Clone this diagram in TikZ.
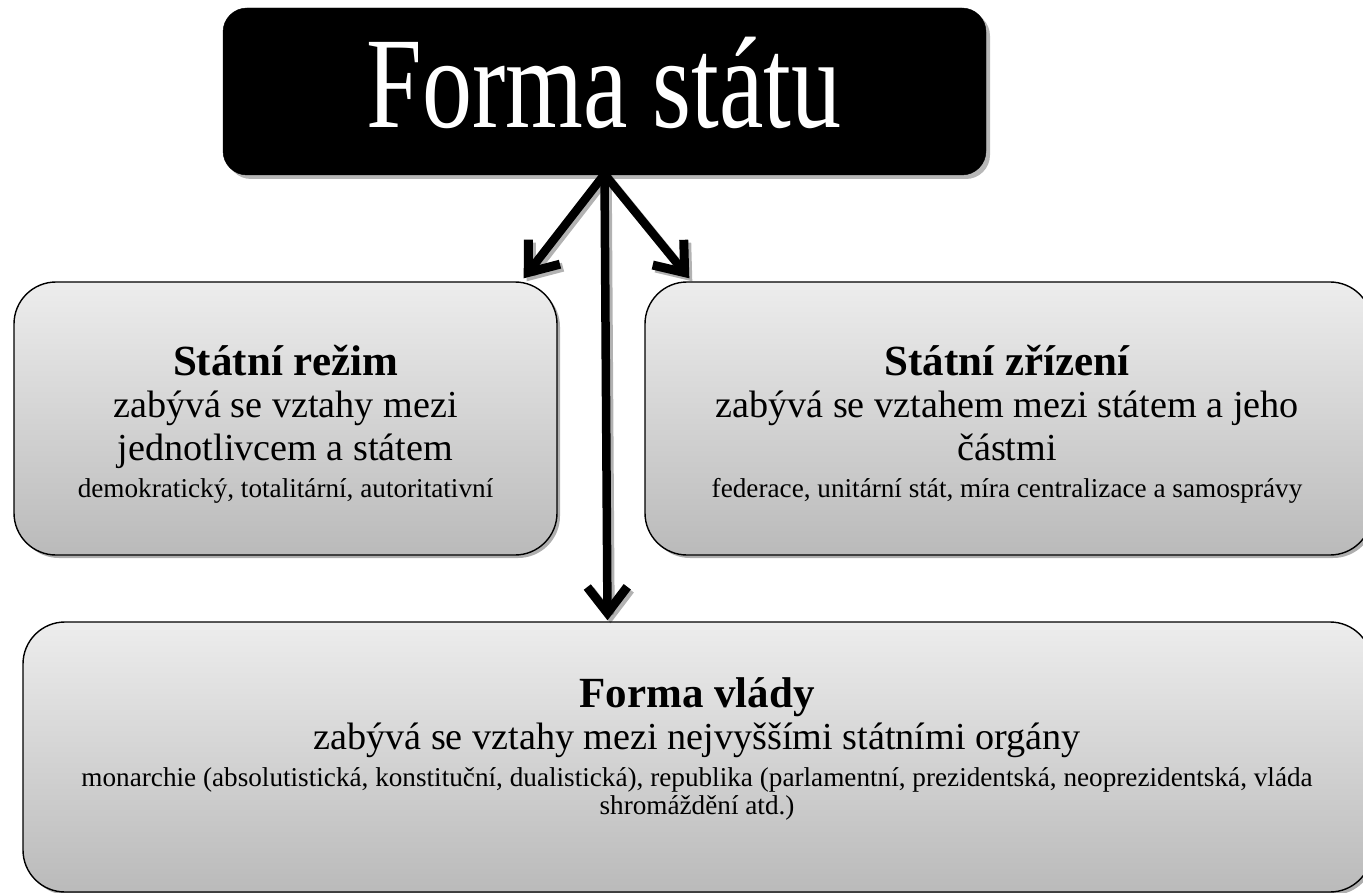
\documentclass[tikz,border=0pt]{standalone}
\usepackage{fontspec}
\setmainfont{Liberation Serif}
\usetikzlibrary{arrows.meta,shadows,calc}
\definecolor{boxtop}{RGB}{237,237,237}
\definecolor{boxbot}{RGB}{186,186,186}
\newcommand{\tallbox}[2]{\scalebox{1}[#1]{#2}}
\begin{document}
\begin{tikzpicture}[x=1pt,y=-1pt,
  panel/.style={draw=black, line width=1.4pt, rounded corners=42pt,
    top color=boxtop, bottom color=boxbot, inner sep=0pt,
    drop shadow={shadow xshift=3pt, shadow yshift=-3pt, opacity=0.45, fill=black!70}},
  headbox/.style={fill=black, draw=black, rounded corners=24pt, inner sep=0pt,
    drop shadow={shadow xshift=4pt, shadow yshift=-4pt, opacity=0.4, fill=black!70}},
  ttl/.style={anchor=base, inner sep=0pt, font=\fontsize{43}{50}\selectfont\bfseries},
  body/.style={anchor=base, inner sep=0pt, font=\fontsize{38.2}{44}\selectfont},
  small/.style={anchor=base, inner sep=0pt, font=\fontsize{27.2}{31}\selectfont},
  conn/.style={line width=8.5pt, line cap=round,
    -{Straight Barb[length=26pt, width=40pt, line width=9pt]}},
  connshadow/.style={conn, draw=black, opacity=0.3, transform canvas={shift={(3pt,-3pt)}}}
]
\useasboundingbox (0,0) rectangle (1363,893);
\clip (0,0) rectangle (1363,893);

% boxes
\node[headbox, minimum width=763pt, minimum height=167pt] (top) at (604.5,91.5) {};
\node[panel, minimum width=543pt, minimum height=273pt] (lbox) at (285.5,418.5) {};
\node[panel, minimum width=727pt, minimum height=273pt] (rbox) at (1008.5,418.5) {};
\node[panel, minimum width=1349pt, minimum height=270pt] (bbox) at (697.5,757) {};

% title
\node[anchor=base, inner sep=0pt, text=white, font=\fontsize{100}{110}\selectfont] (title) at (604,128) {\tallbox{1.3}{Forma státu}};

% left box text
\node[ttl] (l1) at (285.5,375) {Státní režim};
\node[body] (l2) at (285.5,417) {zabývá se vztahy mezi};
\node[body] (l3) at (285.5,460) {jednotlivcem a státem};
\node[small] (l4) at (285.5,497) {demokratický, totalitární, autoritativní};

% right box text
\node[ttl] (r1) at (1007,375) {Státní zřízení};
\node[body] (r2) at (1007,417) {zabývá se vztahem mezi státem a jeho};
\node[body] (r3) at (1007,460) {částmi};
\node[small] (r4) at (1007,497) {federace, unitární stát, míra centralizace a samosprávy};

% bottom box text
\node[ttl] (b1) at (697,707) {Forma vlády};
\node[body] (b2) at (697,749) {zabývá se vztahy mezi nejvyššími státními orgány};
\node[small] (b3) at (697,786) {monarchie (absolutistická, konstituční, dualistická), republika (parlamentní, prezidentská, neoprezidentská, vláda};
\node[small] (b4) at (697,814) {shromáždění atd.)};

% connector end points
\coordinate (apex) at ($(top.south)+(0,-1)$);
\coordinate (lend) at ($(lbox.north east)+(-34,-3)$);
\coordinate (rend) at ($(rbox.north west)+(45,-3)$);
\coordinate (bend) at ($(bbox.north)+(-90,-1)$);

% arrow shadows
\draw[connshadow] (apex) -- (lend);
\draw[connshadow] (apex) -- (rend);
\draw[connshadow] (apex) -- (bend);
% arrows
\draw[conn] (apex) -- (lend);
\draw[conn] (apex) -- (rend);
\draw[conn] (apex) -- (bend);
\end{tikzpicture}
\end{document}
